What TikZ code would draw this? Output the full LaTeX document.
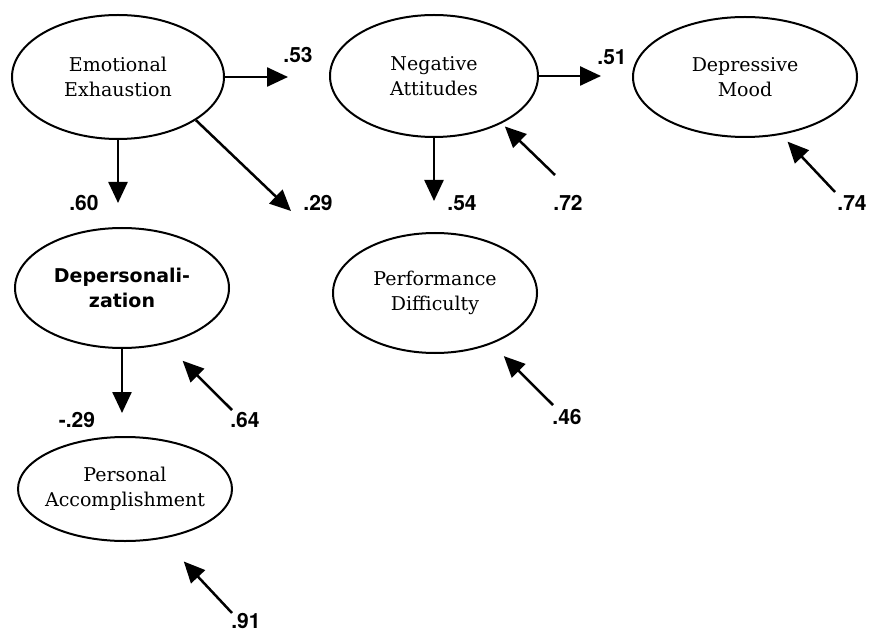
\documentclass[tikz,border=0pt]{standalone}
\usepackage{fontspec}
\newfontfamily\coeffont{TeX Gyre Heros}
\newfontfamily\latfont{DejaVu Serif}
\newfontfamily\boldlatfont{DejaVu Sans}
\usetikzlibrary{shapes.geometric,arrows.meta}

\tikzset{
  latent/.style={ellipse, draw, line width=1pt, inner sep=0pt, align=center,
    font=\latfont\fontsize{9.5}{12.5}\selectfont},
  effect/.style={line width=1.25pt, -{Triangle[length=10.5pt,width=9.5pt]}},
  coef/.style={inner sep=0pt, font=\coeffont\bfseries\fontsize{10.5}{11}\selectfont}
}

\begin{document}
\begin{tikzpicture}[x=0.5pt, y=-0.5pt]
    \useasboundingbox (0,0) rectangle (870,630);

    \node[latent, minimum width=106pt, minimum height=62pt] (emo) at (118,77) {Emotional\\Exhaustion};
    \node[latent, minimum width=104pt, minimum height=61pt] (neg) at (434,76) {Negative\\Attitudes};
    \node[latent, minimum width=112pt, minimum height=60pt] (dep) at (745,77) {Depressive\\Mood};
    \node[latent, minimum width=107pt, minimum height=60pt, font=\boldlatfont\bfseries\fontsize{9.5}{12.5}\selectfont] (dpz) at (122,288) {Depersonali-\\zation};
    \node[latent, minimum width=102pt, minimum height=60pt] (perf) at (435,293) {Performance\\Difficulty};
    \node[latent, minimum width=107pt, minimum height=52pt, inner xsep=-3pt] (acc) at (125,489) {Personal\\Accomplishment};

    \node[coef] (c53) at (298,55) {.53};
    \node[coef] (c60) at (84,203) {.60};
    \node[coef] (c29a) at (318,203) {.29};
    \node[coef] (c51) at (612,57) {.51};
    \node[coef] (c54) at (462,203) {.54};
    \node[coef] (c72) at (568,203) {.72};
    \node[coef] (c74) at (852,203) {.74};
    \node[coef] (c29b) at (77,420) {-.29};
    \node[coef] (c64) at (245,420) {.64};
    \node[coef] (c46) at (567,417) {.46};
    \node[coef] (c91) at (246,621) {.91};

    % free ends of the paths
    \coordinate (e53) at (288,77);
    \coordinate (e60) at (118,203);
    \coordinate (e29a) at (291,211);
    \coordinate (e51) at (601,76);
    \coordinate (e54) at (434,201);
    \coordinate (e29b) at (122,413);
    \coordinate (r72) at (555,175);
    \coordinate (r74) at (835,192);
    \coordinate (r64) at (232,410);
    \coordinate (r46) at (553,405);
    \coordinate (r91) at (232,613);

    \draw[effect] (emo.east) -- (e53);
    \draw[effect] (emo.south) -- (e60);
    \draw[effect] (emo.-29) -- (e29a);
    \draw[effect] (neg.east) -- (e51);
    \draw[effect] (neg.south) -- (e54);
    \draw[effect] (dpz.south) -- (e29b);

    \draw[effect, shorten >=2.2pt] (r72) -- (neg.-35);
    \draw[effect, shorten >=4.7pt] (r74) -- (dep.-58);
    \draw[effect, shorten >=12pt] (r64) -- (dpz.-52);
    \draw[effect, shorten >=8.6pt] (r46) -- (perf.-42);
    \draw[effect, shorten >=15.6pt] (r91) -- (acc.-53);
\end{tikzpicture}
\end{document}
